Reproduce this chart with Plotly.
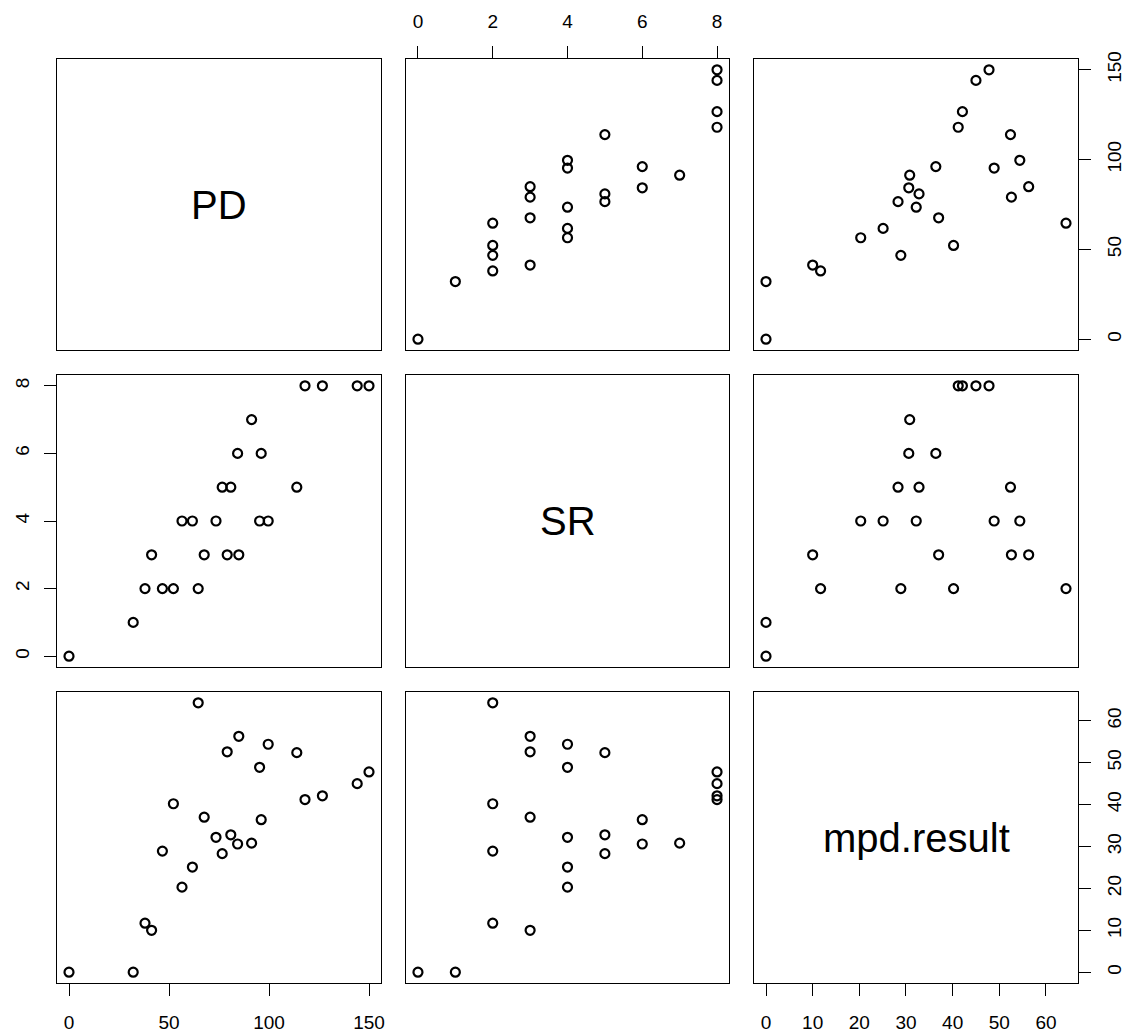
import plotly.graph_objects as go

# ---- data (one entry per sample) ----
var_names = ["PD", "SR", "mpd.result"]
PD = [0, 32.1, 38.0, 41.3, 46.7, 52.2, 56.5, 61.7, 64.6, 67.6, 73.5, 76.6, 79.1,
      80.9, 84.3, 84.9, 91.3, 95.3, 96.1, 99.6, 113.9, 118.0, 126.7, 144.1, 150.0]
SR = [0, 1, 2, 3, 2, 2, 4, 4, 2, 3, 4, 5, 3, 5, 6, 3, 7, 4, 6, 4, 5, 8, 8, 8, 8]
MPD = [0, 0, 11.7, 10.0, 28.9, 40.2, 20.3, 25.1, 64.3, 37.0, 32.2, 28.3, 52.6,
       32.8, 30.6, 56.3, 30.8, 48.9, 36.4, 54.4, 52.4, 41.2, 42.1, 45.0, 47.8]
tick_vals = {
    "PD": [0, 50, 100, 150],
    "SR": [0, 2, 4, 6, 8],
    "mpd.result": [0, 10, 20, 30, 40, 50, 60],
}

data = {"PD": PD, "SR": SR, "mpd.result": MPD}

W, H = 1126, 1032
cols_px = [(57, 381), (406, 729), (754, 1078)]
rows_px = [(59, 350), (375, 667), (692, 983)]

def ext_range(v):
    lo, hi = min(v), max(v)
    d = (hi - lo) * 0.04
    return [lo - d, hi + d]

FONT = "Liberation Sans, Arial, Helvetica, sans-serif"
TICKFONT = dict(family=FONT, size=19, color="black")

fig = go.Figure()
layout = dict(
    width=W, height=H,
    margin=dict(l=0, r=0, t=0, b=0, autoexpand=False),
    paper_bgcolor="white", plot_bgcolor="white",
    showlegend=False,
    annotations=[],
)

n = 3
for i in range(n):          # row
    for j in range(n):      # col
        k = i * n + j + 1
        xname = "xaxis" if k == 1 else f"xaxis{k}"
        yname = "yaxis" if k == 1 else f"yaxis{k}"
        xref = "x" if k == 1 else f"x{k}"
        yref = "y" if k == 1 else f"y{k}"
        xv = var_names[j]
        yv = var_names[i]

        # which axes are drawn (R pairs layout)
        x_side = None
        if i == 0 and j % 2 == 1:
            x_side = "top"
        if i == n - 1 and j % 2 == 0:
            x_side = "bottom"
        y_side = None
        if j == 0 and i % 2 == 1:
            y_side = "left"
        if j == n - 1 and i % 2 == 0:
            y_side = "right"

        l, r = cols_px[j]
        t, b = rows_px[i]
        xa = dict(
            domain=[l / W, r / W], range=ext_range(data[xv]), anchor=yref,
            showline=True, mirror=True, linecolor="black", linewidth=1.3,
            showgrid=False, zeroline=False, fixedrange=True, automargin=False,
        )
        ya = dict(
            domain=[1 - b / H, 1 - t / H], range=ext_range(data[yv]), anchor=xref,
            showline=True, mirror=True, linecolor="black", linewidth=1.3,
            showgrid=False, zeroline=False, fixedrange=True, automargin=False,
        )
        if x_side:
            xa.update(side=x_side, ticks="outside", ticklen=12, tickwidth=1.3,
                      tickcolor="black", tickmode="array",
                      tickvals=tick_vals[xv], ticktext=[str(v) for v in tick_vals[xv]],
                      showticklabels=True, tickfont=TICKFONT, ticklabelstandoff=10)
        else:
            xa.update(ticks="", showticklabels=False)
        if y_side:
            ya.update(side=y_side, ticks="outside", ticklen=12, tickwidth=1.3,
                      tickcolor="black", tickmode="array",
                      tickvals=tick_vals[yv], ticktext=[str(v) for v in tick_vals[yv]],
                      showticklabels=True, tickfont=TICKFONT, tickangle=-90,
                      ticklabelstandoff=7)
        else:
            ya.update(ticks="", showticklabels=False)
        layout[xname] = xa
        layout[yname] = ya

        if i == j:
            layout["annotations"].append(dict(
                text=var_names[i], xref="paper", yref="paper",
                x=(l + r) / 2 / W, y=1 - (t + b) / 2 / H,
                xanchor="center", yanchor="middle", showarrow=False,
                font=dict(family=FONT, size=40, color="black"),
            ))
            # invisible trace so the diagonal panel's axes/box are drawn
            fig.add_trace(go.Scatter(
                x=data[xv], y=data[yv], mode="markers",
                xaxis=xref, yaxis=yref,
                marker=dict(size=1, opacity=0),
                hoverinfo="skip",
            ))
        else:
            fig.add_trace(go.Scatter(
                x=data[xv], y=data[yv], mode="markers",
                xaxis=xref, yaxis=yref,
                marker=dict(symbol="circle-open", size=9, color="black",
                            line=dict(width=2.2, color="black")),
                hoverinfo="skip",
            ))

fig.update_layout(**layout)
fig.write_html(
    "out.html",
    config={"displayModeBar": False},
    post_script="document.body.style.margin='0';document.body.style.overflow='hidden';",
)
